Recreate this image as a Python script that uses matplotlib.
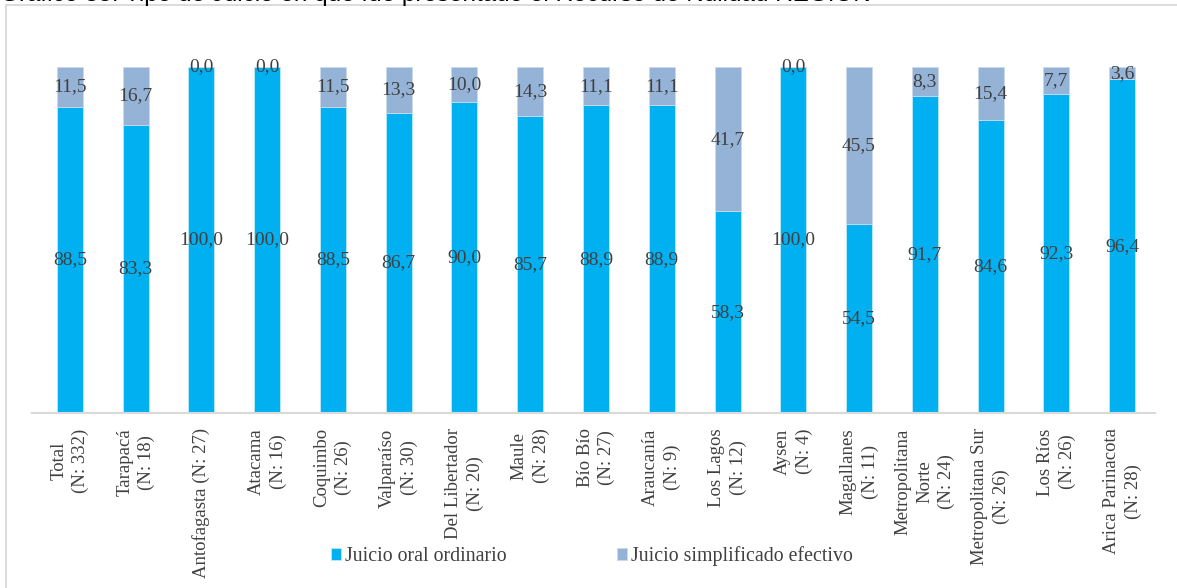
import matplotlib
matplotlib.use("Agg")
import matplotlib.pyplot as plt
from matplotlib.patches import Rectangle

categories = ["Total\n(N: 332)", "Tarapacá\n(N: 18)", "Antofagasta (N: 27)", "Atacama\n(N: 16)",
              "Coquimbo\n(N: 26)", "Valparaíso\n(N: 30)", "Del Libertador\n(N: 20)", "Maule\n(N: 28)",
              "Bío Bío\n(N: 27)", "Araucanía\n(N: 9)", "Los Lagos\n(N: 12)", "Aysen\n(N: 4)",
              "Magallanes\n(N: 11)", "Metropolitana\nNorte\n(N: 24)", "Metropolitana Sur\n(N: 26)",
              "Los Ríos\n(N: 26)", "Arica Parinacota\n(N: 28)"]
oral = [88.5, 83.3, 100.0, 100.0, 88.5, 86.7, 90.0, 85.7, 88.9, 88.9, 58.3, 100.0, 54.5, 91.7, 84.6, 92.3, 96.4]
simplificado = [11.5, 16.7, 0.0, 0.0, 11.5, 13.3, 10.0, 14.3, 11.1, 11.1, 41.7, 0.0, 45.5, 8.3, 15.4, 7.7, 3.6]
series_names = ["Juicio oral ordinario", "Juicio simplificado efectivo"]
title = "Gráfico 35: Tipo de Juicio en que fue presentado el Recurso de Nulidad REGION"

W, H = 1177, 588
fig = plt.figure(figsize=(W / 100, H / 100), dpi=100)
serif = ["Liberation Serif", "DejaVu Serif"]
txt_color = "#404040"
c1, c2 = "#00B0F0", "#95B3D7"

# frame
fig.patches.append(Rectangle((6 / W, -0.2), 1.2, (1 - 5 / H) + 0.2, transform=fig.transFigure,
                             fill=False, edgecolor="#D9D9D9", linewidth=1.3))

# title (cropped at top, as in the reference)
t = fig.text(0 / W, 1 - 1 / H, title, fontsize=15, family=["Liberation Sans", "DejaVu Sans"],
             color="black", ha="left", va="baseline")
fig.canvas.draw()
bb = t.get_window_extent(renderer=fig.canvas.get_renderer())
t.set_fontsize(15 * 872 / bb.width)

left, right = 37 / W, 1155 / W
bottom, top = 1 - 413 / H, 1 - 67 / H
ax = fig.add_axes([left, bottom, right - left, top - bottom])
x = list(range(len(categories)))
bw = 0.395
ax.bar(x, oral, bw, color=c1, edgecolor="#BFE9FA", linewidth=0.6, label=series_names[0], zorder=2)
ax.bar(x, simplificado, bw, bottom=oral, color=c2, edgecolor="#C9D9EC", linewidth=0.6,
       label=series_names[1], zorder=2)
for i in x:
    ax.text(i, oral[i] / 2, f"{oral[i]:.1f}".replace(".", ","), ha="center", va="center",
            fontsize=14, family=serif, color=txt_color, zorder=3)
    ax.text(i, oral[i] + simplificado[i] / 2, f"{simplificado[i]:.1f}".replace(".", ","),
            ha="center", va="center", fontsize=14, family=serif, color=txt_color, zorder=3)

ax.set_xlim(-0.5, len(categories) - 0.5)
ax.set_ylim(0, 100)
ax.set_yticks([])
ax.set_xticks(x)
ax.set_xticklabels(categories, rotation=90, ha="center", va="top", multialignment="center",
                   fontsize=13.5, family=serif, color=txt_color, linespacing=1.35)
ax.tick_params(axis="x", length=0, pad=11)
for s in ["top", "right", "left"]:
    ax.spines[s].set_visible(False)
ax.spines["bottom"].set_color("#D9D9D9")
ax.spines["bottom"].set_linewidth(1.5)
ax.spines["bottom"].set_bounds(-0.5 - 5 / 65.8, len(categories) - 0.5)
ax.set_facecolor("none")

leg = fig.legend(loc="center", bbox_to_anchor=(592 / W, 1 - 556 / H), ncol=2, frameon=False,
                 prop={"family": serif, "size": 14.3}, handlelength=0.5, handleheight=0.5,
                 handletextpad=0.2, columnspacing=5.6, labelcolor=txt_color)

fig.savefig("out.png", dpi=100)
